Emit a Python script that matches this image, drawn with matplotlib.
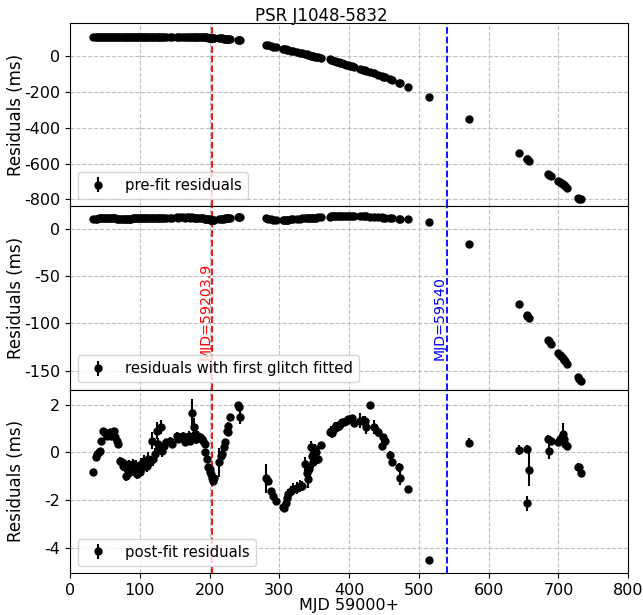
import matplotlib
matplotlib.use('Agg')
import matplotlib.pyplot as plt
import numpy as np

# epochs (MJD - 59000)
mjd = [33, 37, 39, 41, 43, 45, 47, 49, 51, 53,
       55, 57, 59, 61, 63, 65, 67, 69, 72, 74,
       76, 78, 80, 82, 84, 86, 88, 90, 92, 94,
       96, 98, 100, 102, 104, 106, 108, 110, 112, 114,
       117, 119, 121, 124, 126, 128, 131, 132, 134, 138,
       143, 146, 153, 155, 158, 162, 165, 168, 170, 172,
       174.5, 177, 179, 181, 183, 186, 189, 191, 193.5, 194,
       196, 198, 200, 201, 202, 203, 205, 206, 214, 216,
       217.4, 220, 222, 224.6, 226, 227, 229, 241, 242, 243,
       281, 284, 288, 291, 295, 305, 307, 309, 311, 313,
       316, 320, 325, 329, 332, 337, 339, 341, 342, 345,
       347, 348, 351, 352, 356, 360, 372, 374, 376, 378,
       380, 382, 385, 387, 390, 392, 395, 398, 401, 404,
       407, 416, 420, 423, 424, 430, 435, 442, 447, 449,
       452, 458, 461, 471, 473, 485,
       515, 572.5, 643, 655, 655.5, 658, 685, 686, 690, 700,
       702, 704, 706, 708, 709, 712, 728, 730, 732]

pre_res = [102, 102, 103, 102, 102, 103, 102, 102, 103, 102,
           102, 103, 102, 102, 103, 102, 102, 103, 102, 102,
           103, 102, 102, 103, 102, 102, 103, 102, 102, 103,
           102, 102, 103, 102, 102, 103, 102, 102, 103, 102,
           102, 103, 102, 102, 103, 102, 102, 103, 102, 102,
           103, 102, 102, 103, 102, 102, 103, 102, 102, 103,
           102, 102, 103, 102, 102, 102, 101, 101, 101, 101,
           101, 100, 100, 100, 99, 99, 99, 98, 96, 95,
           95, 94, 93, 92, 91, 91, 90, 85, 84, 84,
           59, 56, 53, 50, 46, 37, 36, 34, 32, 30,
           27, 24, 19, 15, 13, 8, 6, 4, 3, 0,
           -2, -3, -6, -7, -10, -13, -21, -23, -26, -28,
           -31, -33, -37, -40, -44, -46, -50, -53, -56, -59,
           -62, -74, -79, -83, -84, -92, -98, -107, -114, -117,
           -121, -130, -134, -150, -154, -177,
           -230, -354, -544, -575, -577, -584, -660, -663, -672, -698,
           -703, -710, -716, -722, -726, -735, -790, -795, -800]

glitch_res = [10.0, 10.3, 10.5, 10.6, 10.8, 11.0, 11.2, 11.3, 11.4, 11.5,
              11.5, 11.3, 11.1, 11.0, 10.8, 10.6, 10.5, 10.4, 10.3, 10.2,
              10.2, 10.3, 10.3, 10.4, 10.4, 10.5, 10.5, 10.6, 10.6, 10.7,
              10.7, 10.8, 10.8, 10.9, 10.9, 11.0, 11.0, 11.1, 11.1, 11.2,
              11.3, 11.2, 11.3, 11.5, 11.4, 11.3, 11.6, 11.4, 11.5, 11.6,
              11.6, 11.5, 11.7, 11.6, 11.7, 11.8, 11.6, 11.7, 11.8, 11.6,
              11.7, 11.5, 11.4, 11.3, 11.1, 11.0, 10.8, 10.6, 10.4, 10.2,
              10.0, 9.8, 9.6, 9.5, 9.4, 9.3, 9.2, 9.2, 9.6, 9.8,
              10.0, 10.3, 10.6, 10.9, 11.0, 11.1, 11.3, 12.4, 12.3, 12.2,
              10.6, 10.2, 9.8, 9.5, 9.3, 9.2, 9.2, 9.3, 9.4, 9.5,
              9.7, 9.9, 10.2, 10.5, 10.7, 11.0, 11.1, 11.2, 11.2, 11.4,
              11.5, 11.5, 11.6, 11.6, 11.7, 11.9, 12.6, 12.7, 12.8, 12.8,
              12.9, 12.9, 13.0, 13.0, 13.0, 13.0, 13.0, 13.0, 13.0, 12.9,
              12.9, 12.8, 12.8, 12.7, 12.7, 12.5, 12.2, 12.0, 11.7, 11.6,
              11.4, 11.0, 10.9, 10.5, 10.4, 9.9,
              6.4, -16.7, -80, -91, -92, -94, -118, -119, -122, -131,
              -133, -135, -137, -139, -140, -143, -157, -159, -161]

post_res = [-0.80, -0.21, -0.07, 0.00, 0.07, 0.49, 0.91, 0.84, 0.77, 0.70,
            0.77, 0.84, 0.70, 0.77, 0.91, 0.63, 0.49, 0.35, -0.35, -0.42,
            -0.56, -0.49, -0.98, -0.70, -0.56, -0.84, -0.63, -0.49, -0.77, -0.56,
            -0.91, -0.70, -0.84, -0.49, -0.63, -0.35, -0.42, -0.56, -0.28, -0.42,
            0.49, -0.28, -0.07, 0.91, 0.35, 0.21, 1.05, 0.07, 0.28, 0.42,
            0.49, 0.35, 0.70, 0.56, 0.63, 0.70, 0.42, 0.56, 0.70, 0.49,
            1.64, 1.05, 0.77, 0.56, 0.70, 0.63, 0.56, 0.49, 0.35, 0.00,
            -0.28, -0.63, -0.84, -0.70, -0.91, -1.05, -1.19, -1.05, -0.42, -0.14,
            -0.07, 0.21, 0.42, 0.91, 0.84, 1.12, 1.47, 1.96, 1.89, 1.47,
            -1.09, -1.19, -1.62, -1.83, -2.04, -2.29, -2.32, -2.10, -1.90, -1.75,
            -1.60, -1.54, -1.47, -1.40, -1.40, -0.49, -0.85, -1.12, -0.70, 0.21,
            -0.14, -0.42, 0.14, 0.00, -0.28, 0.32, 0.87, 0.91, 0.80, 0.97,
            1.05, 1.05, 1.12, 1.19, 1.26, 1.26, 1.33, 1.38, 1.40, 1.44,
            1.23, 1.33, 1.33, 1.33, 1.05, 1.96, 1.05, 0.84, 0.28, 0.63,
            0.49, -0.11, -0.42, -0.63, -1.05, -1.54,
            -4.49, 0.41, 0.11, 0.14, -2.13, -0.72, 0.56, 0.07, 0.47, 0.42,
            0.56, 0.50, 0.77, 0.56, 0.35, 0.28, -0.61, -0.63, -0.87]

post_err = [0.08, 0.1, 0.1, 0.1, 0.1, 0.1, 0.1, 0.1, 0.1, 0.1,
            0.1, 0.1, 0.1, 0.1, 0.1, 0.1, 0.1, 0.1, 0.15, 0.15,
            0.2, 0.15, 0.2, 0.2, 0.25, 0.2, 0.25, 0.2, 0.2, 0.25,
            0.2, 0.25, 0.2, 0.25, 0.2, 0.25, 0.2, 0.25, 0.3, 0.25,
            0.35, 0.3, 0.25, 0.35, 0.25, 0.2, 0.3, 0.25, 0.2, 0.15,
            0.15, 0.15, 0.15, 0.15, 0.15, 0.15, 0.15, 0.2, 0.2, 0.2,
            0.6, 0.4, 0.25, 0.2, 0.2, 0.15, 0.15, 0.15, 0.15, 0.15,
            0.15, 0.15, 0.15, 0.15, 0.15, 0.15, 0.1, 0.1, 0.6, 0.2,
            0.2, 0.15, 0.15, 0.15, 0.15, 0.15, 0.15, 0.1, 0.1, 0.3,
            0.6, 0.15, 0.15, 0.15, 0.15, 0.15, 0.15, 0.2, 0.2, 0.2,
            0.2, 0.25, 0.25, 0.25, 0.2, 0.3, 0.25, 0.35, 0.25, 0.25,
            0.3, 0.25, 0.2, 0.2, 0.2, 0.1, 0.15, 0.2, 0.2, 0.25,
            0.2, 0.2, 0.15, 0.15, 0.15, 0.1, 0.1, 0.1, 0.1, 0.1,
            0.1, 0.3, 0.2, 0.2, 0.3, 0.15, 0.3, 0.2, 0.2, 0.15,
            0.15, 0.15, 0.15, 0.2, 0.3, 0.1,
            0.1, 0.2, 0.2, 0.15, 0.3, 0.7, 0.15, 0.35, 0.15, 0.15,
            0.15, 0.2, 0.45, 0.2, 0.2, 0.15, 0.15, 0.15, 0.15]

glitches = [203.9, 540]
glitch_colors = ['red', 'blue']
glitch_labels = ['MJD=59203.9', 'MJD=59540']

assert len(mjd) == len(pre_res) == len(glitch_res) == len(post_res) == len(post_err)

plt.rcParams['font.size'] = 12
plt.rcParams['axes.unicode_minus'] = False
plt.rcParams['xtick.labelsize'] = 11.5
plt.rcParams['ytick.labelsize'] = 11.5
fig, axes = plt.subplots(3, 1, sharex=True, figsize=(6.43, 6.15), dpi=100)
fig.subplots_adjust(left=0.109, right=0.977, top=0.9626, bottom=0.0683, hspace=0)

series = [pre_res, glitch_res, post_res]
labels = ['pre-fit residuals', 'residuals with first glitch fitted', 'post-fit residuals']
ylims = [(-838, 181), (-170, 23.4), (-5.04, 2.62)]

for ax, y, lab, yl in zip(axes, series, labels, ylims):
    ax.errorbar(mjd, y, yerr=post_err, fmt='o', color='black', ecolor='black',
                markersize=5, elinewidth=1.5, label=lab)
    for g, c in zip(glitches, glitch_colors):
        ax.axvline(g, color=c, linestyle='--', linewidth=1.3)
    ax.grid(True, linestyle='--', color='#b0b0b0', alpha=0.8)
    ax.set_ylim(yl)
    ax.set_ylabel('Residuals (ms)')
    ax.yaxis.set_label_coords(-0.081, 0.5)
    ax.legend(loc='lower left', fontsize=10.7)

axes[0].set_yticks([0, -200, -400, -600, -800])
axes[1].set_yticks([0, -50, -100, -150])
axes[2].set_yticks([2, 0, -2, -4])

for g, c, t in zip(glitches, glitch_colors, glitch_labels):
    axes[1].text(g, -139, t, color=c, rotation=90, ha='right', va='bottom', fontsize=10.2)

fig.suptitle('PSR J1048-5832', fontsize=12, x=0.5, y=0.988, va='top')
axes[2].set_xlim(0, 800)
axes[2].set_xlabel('MJD 59000+', fontsize=11.5, labelpad=0)

plt.savefig('out.png', dpi=100)
